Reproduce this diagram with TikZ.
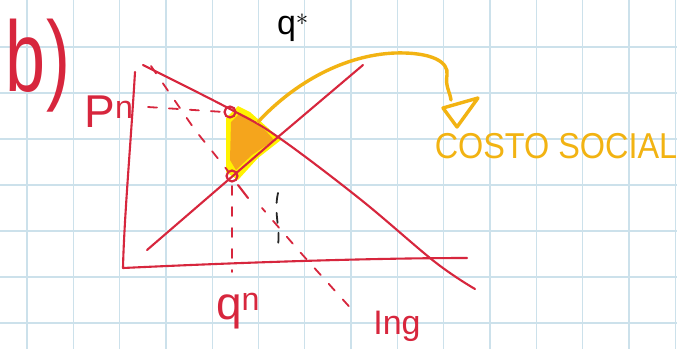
\documentclass[tikz,border=0pt]{standalone}
\usepackage{fontspec}
\setmainfont{Liberation Sans}
\definecolor{inkred}{HTML}{D7263D}
\definecolor{gridblue}{HTML}{CCE1EB}
\definecolor{marker}{HTML}{F2B312}
\definecolor{hl}{HTML}{FFF200}
\definecolor{hlorange}{HTML}{F5A51C}
\tikzset{
  gridline/.style={gridblue, line width=1.3pt},
  redline/.style={inkred, line width=2.1pt, line cap=round, line join=round},
  reddash/.style={inkred, line width=1.8pt, dash pattern=on 9pt off 12pt, line cap=round},
  blackdash/.style={black!85, line width=1.8pt, dash pattern=on 10pt off 10pt, line cap=round},
  markerline/.style={marker, line width=3.4pt, line cap=round, line join=round},
  dotc/.style={circle, draw=inkred, line width=2.2pt, minimum size=11pt, inner sep=0pt},
  redtext/.style={text=inkred, inner sep=0pt},
}
\begin{document}
\begin{tikzpicture}[x=1pt,y=-1pt]
\useasboundingbox (0,0) rectangle (677,349);
\fill[white] (0,0) rectangle (677,349);
\clip (0,0) rectangle (677,349);
% grid
\foreach \i in {0,...,14} \draw[gridline] ({27+46.3*\i},0) -- ({27+46.3*\i},349);
\foreach \j in {1,...,7} \draw[gridline] (0,{1+46*\j}) -- (677,{1+46*\j});

% key points
\coordinate (ytop) at (135,72);
\coordinate (orig) at (123,268);
\coordinate (xend) at (467,258);
\coordinate (dA) at (143,65);
\coordinate (dB) at (475,289);
\coordinate (sA) at (147,250);
\coordinate (sB) at (363,65);
\coordinate (cross) at (278,137);

% highlight (social cost)
\fill[hl] (226,118) -- (238,106) -- (250,112) -- (268,128) -- (281,140) -- (258,158) -- (238,180) -- (226,172) -- cycle;
\fill[hlorange] (231,122) -- (240,113) -- (250,118) -- (266,131) -- (274,140) -- (252,155) -- (236,170) -- (230,160) -- cycle;

% axes
\draw[redline] (ytop) .. controls (131,140) and (124,220) .. (orig) .. controls (250,262) and (380,258) .. (xend);

% dashed guides
\draw[reddash] (148,107) -- (224,112);
\draw[reddash] (151,66) -- (195,130) -- (228,171);
\draw[redline] (238,185) -- (248,198);
\draw[reddash, dash phase=4pt] (262,208) -- (300,252) -- (355,313);
\draw[reddash] (232,186) -- (232,272);
\draw[blackdash] (278,193) .. controls (273,215) and (282,230) .. (277,250);

% demand and supply
\draw[redline] plot[smooth, tension=0.6] coordinates {(dA) (230,109) (cross) (360,199) (435,262) (dB)};
\draw[redline] (sA) -- (cross) -- (sB);

% points
\node[dotc] (up) at (230,112) {};
\node[dotc] (lo) at (232,176) {};

% arrow to label
\coordinate (arrS) at (258,122);
\coordinate (arrE) at (451,100);
\draw[markerline] (arrS) .. controls (295,82) and (345,55) .. (395,53) .. controls (432,52) and (449,62) .. (447,75) .. controls (445,86) and (450,92) .. (arrE);
\draw[markerline] (443,108) -- (478,98) -- (457,127) -- cycle;

% texts
\node[redtext, font=\fontsize{100}{100}\selectfont, anchor=center, xscale=0.72] (lab) at (38,66) {b)};
\node[redtext, font=\fontsize{46}{46}\selectfont, anchor=center] (pn) at (109,112) {P$^{\mathrm{n}}$};
\node[redtext, font=\fontsize{46}{46}\selectfont, anchor=center] (qn) at (238,311) {q$^{\mathrm{n}}$};
\node[redtext, font=\fontsize{34}{34}\selectfont, anchor=center] (ing) at (397,326) {Ing};
\node[text=black, inner sep=0pt, font=\fontsize{34}{34}\selectfont, anchor=center] (qs) at (293,28) {q$^{*}$};
\node[text=marker, inner sep=0pt, font=\fontsize{36}{36}\selectfont, anchor=center, xscale=0.9] (cs) at (556,146) {COSTO SOCIAL};
\end{tikzpicture}
\end{document}
